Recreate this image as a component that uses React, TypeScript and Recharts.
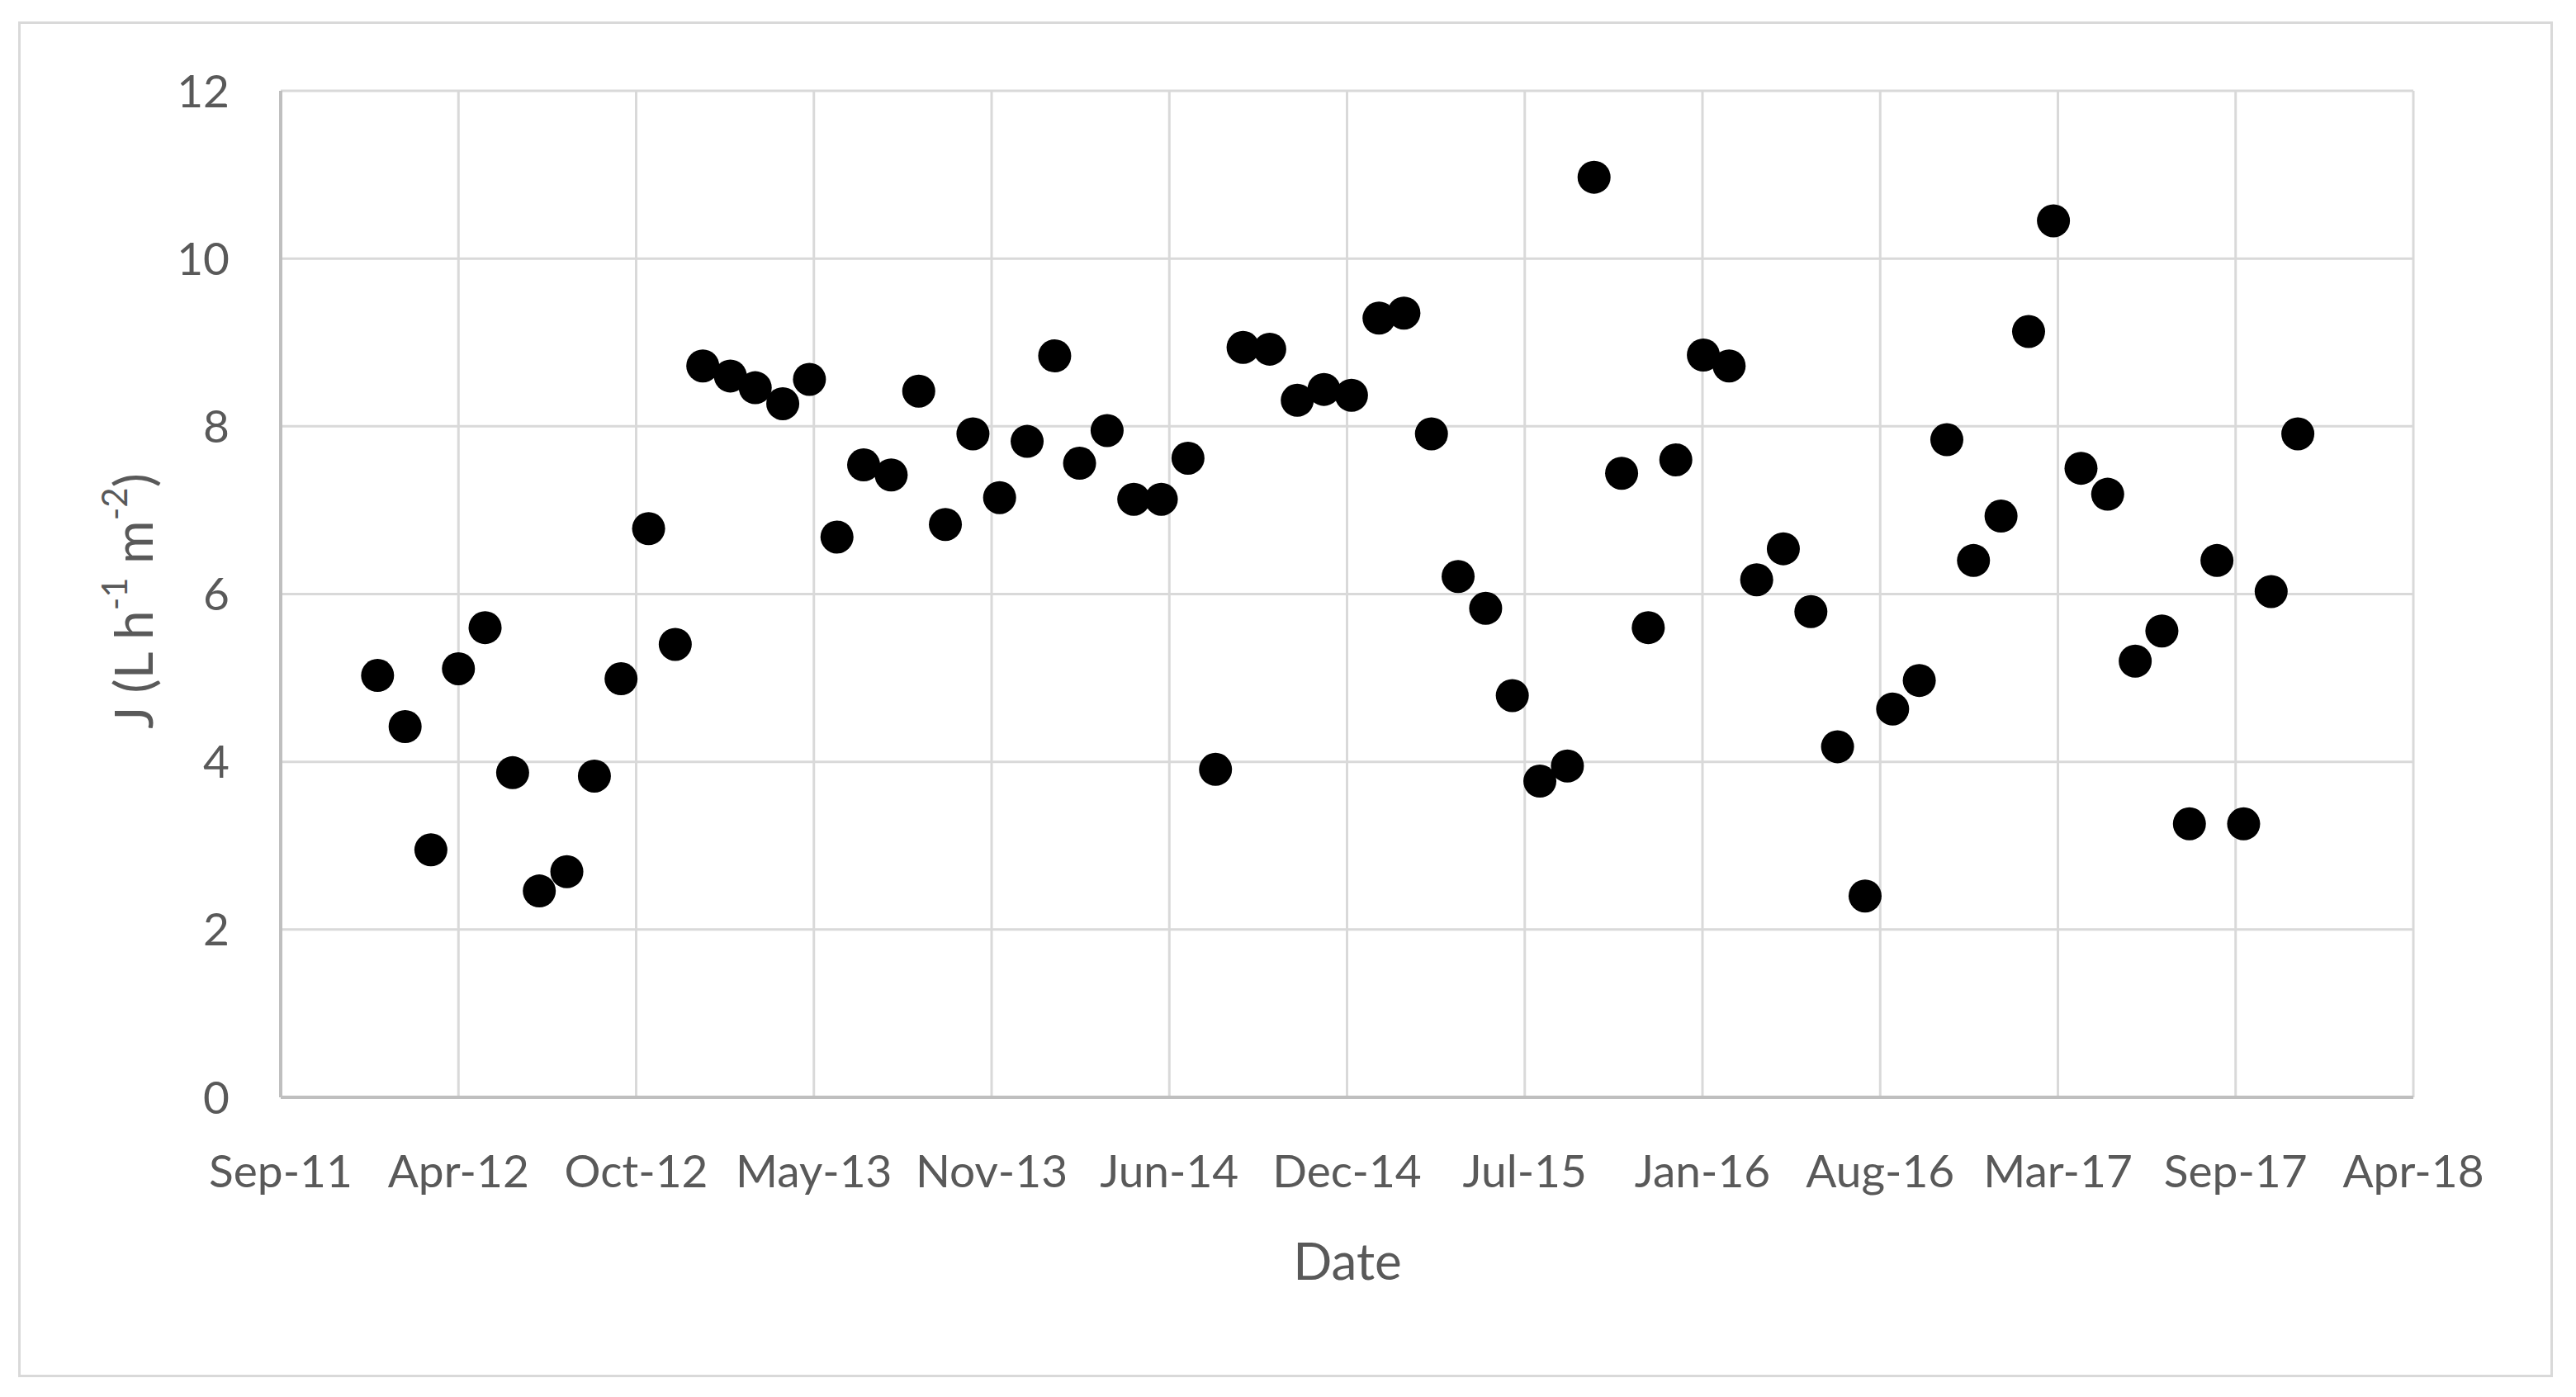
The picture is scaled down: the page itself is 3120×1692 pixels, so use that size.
import React from 'react';
import { ScatterChart, Scatter, XAxis, YAxis, CartesianGrid } from 'recharts';

// sampling months (first day of each month)
const months = [
  '2012-01', '2012-02', '2012-03', '2012-04', '2012-05', '2012-06', '2012-07', '2012-08', '2012-09', '2012-10', '2012-11', '2012-12',
  '2013-01', '2013-02', '2013-03', '2013-04', '2013-05', '2013-06', '2013-07', '2013-08', '2013-09', '2013-10', '2013-11', '2013-12',
  '2014-01', '2014-02', '2014-03', '2014-04', '2014-05', '2014-06', '2014-07', '2014-08', '2014-09', '2014-10', '2014-11', '2014-12',
  '2015-01', '2015-02', '2015-03', '2015-04', '2015-05', '2015-06', '2015-07', '2015-08', '2015-09', '2015-10', '2015-11', '2015-12',
  '2016-01', '2016-02', '2016-03', '2016-04', '2016-05', '2016-06', '2016-07', '2016-08', '2016-09', '2016-10', '2016-11', '2016-12',
  '2017-01', '2017-02', '2017-03', '2017-04', '2017-05', '2017-06', '2017-07', '2017-08', '2017-09', '2017-10', '2017-11', '2017-12',
];

// flux J (L h-1 m-2)
const fluxJ = [
  5.03, 4.42, 2.95, 5.11, 5.60, 3.87, 2.46, 2.69, 3.83, 4.99, 6.78, 5.40,
  8.72, 8.60, 8.46, 8.27, 8.56, 6.68, 7.54, 7.42, 8.42, 6.83, 7.91, 7.15,
  7.82, 8.84, 7.56, 7.95, 7.13, 7.13, 7.62, 3.91, 8.94, 8.92, 8.31, 8.44,
  8.37, 9.29, 9.35, 7.91, 6.21, 5.83, 4.79, 3.77, 3.95, 10.97, 7.44, 5.60,
  7.60, 8.85, 8.72, 6.17, 6.54, 5.79, 4.18, 2.40, 4.63, 4.97, 7.84, 6.40,
  6.93, 9.13, 10.45, 7.50, 7.19, 5.20, 5.56, 3.26, 6.40, 3.26, 6.03, 7.91,
];

// Excel date serials of the x axis ticks
const xTicks = [40800, 41000, 41200, 41400, 41600, 41800, 42000, 42200, 42400, 42600, 42800, 43000, 43200];
const yTicks = [0, 2, 4, 6, 8, 10, 12];

const MONTH_NAMES = ['Jan', 'Feb', 'Mar', 'Apr', 'May', 'Jun', 'Jul', 'Aug', 'Sep', 'Oct', 'Nov', 'Dec'];
const EXCEL_EPOCH = Date.UTC(1899, 11, 30);
const DAY = 86400000;

const toSerial = (ym: string) => {
  const [y, m] = ym.split('-').map(Number);
  return Math.round((Date.UTC(y, m - 1, 1) - EXCEL_EPOCH) / DAY);
};

const fmtDate = (v: number) => {
  const d = new Date(EXCEL_EPOCH + v * DAY);
  return `${MONTH_NAMES[d.getUTCMonth()]}-${String(d.getUTCFullYear()).slice(2)}`;
};

const data = months.map((m, i) => ({ x: toSerial(m), y: fluxJ[i] }));

const FONT = 'Lato, "Liberation Sans", sans-serif';
const TEXT = '#595959';

const Dot = (props: any) => <circle cx={props.cx} cy={props.cy} r={20} fill="#000" />;

const YTitle = () => (
  <text
    x={160}
    y={728}
    transform="rotate(-90, 160, 728)"
    textAnchor="middle"
    dominantBaseline="central"
    fill={TEXT}
    fontSize={64}
    fontFamily={FONT}
  >
    J (L h
    <tspan dy={-22} fontSize={42}>-1</tspan>
    <tspan dy={22}> m</tspan>
    <tspan dy={-22} fontSize={42}>-2</tspan>
    <tspan dy={22}>)</tspan>
  </text>
);

const XTitle = () => (
  <text x={1632} y={1526} textAnchor="middle" dominantBaseline="central" fill={TEXT} fontSize={62} fontFamily={FONT}>
    Date
  </text>
);

const App = () => (
  <div style={{ position: 'absolute', left: 0, top: 0, width: 3120, height: 1692, background: '#fff', fontFamily: FONT }}>
    <div
      style={{
        position: 'absolute',
        left: 22,
        top: 26,
        width: 3064,
        height: 1636,
        border: '3px solid #d9d9d9',
      }}
    />
    <div style={{ position: 'absolute', left: 0, top: 0 }}>
      <ScatterChart width={3120} height={1692} margin={{ top: 110, right: 197, bottom: 263, left: 240 }}>
        <CartesianGrid stroke="#d9d9d9" strokeWidth={3} horizontalValues={yTicks} verticalValues={xTicks} />
        <XAxis
          type="number"
          dataKey="x"
          domain={[40800, 43200]}
          ticks={xTicks}
          tickFormatter={fmtDate}
          height={100}
          tickLine={false}
          tickSize={0}
          tickMargin={70}
          axisLine={{ stroke: '#bfbfbf', strokeWidth: 4 }}
          tick={{ fill: TEXT, fontSize: 55, fontFamily: FONT }}
          interval={0}
          label={{ value: 'Date', content: () => <XTitle /> }}
        />
        <YAxis
          type="number"
          dataKey="y"
          domain={[0, 12]}
          ticks={yTicks}
          width={100}
          tickLine={false}
          tickSize={0}
          tickMargin={62}
          axisLine={{ stroke: '#bfbfbf', strokeWidth: 4 }}
          tick={{ fill: TEXT, fontSize: 55, fontFamily: FONT }}
          interval={0}
          label={{ value: 'J', content: () => <YTitle /> }}
        />
        <Scatter data={data} shape={Dot} isAnimationActive={false} />
      </ScatterChart>
    </div>
  </div>
);

export default App;
